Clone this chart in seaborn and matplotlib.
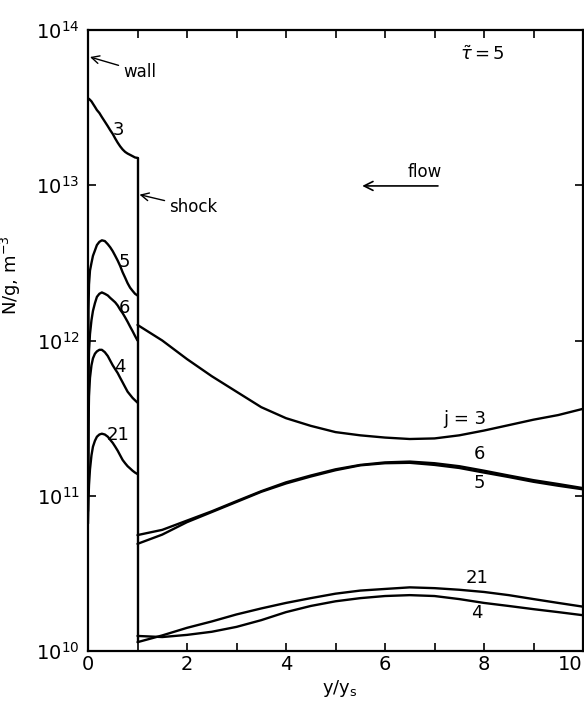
import matplotlib
matplotlib.use("Agg")
import matplotlib.pyplot as plt
import numpy as np
import pandas as pd
import seaborn as sns
from matplotlib.ticker import FixedLocator, FixedFormatter, NullLocator

# ---------------- data ----------------
# shock layer (0 <= y/ys <= 1)
x_shock = [0.0, 0.01, 0.02, 0.04, 0.07, 0.1, 0.14, 0.18, 0.23, 0.28, 0.34,
           0.4, 0.45, 0.5, 0.55, 0.6, 0.65, 0.7, 0.75, 0.8, 0.85, 0.9, 0.95,
           1.0]
n3_shock = [3.63e13, 3.61e13, 3.60e13, 3.55e13, 3.47e13, 3.35e13, 3.20e13,
            3.05e13, 2.92e13, 2.75e13, 2.57e13, 2.40e13, 2.26e13, 2.14e13,
            2.00e13, 1.88e13, 1.78e13, 1.70e13, 1.64e13, 1.60e13, 1.57e13,
            1.54e13, 1.51e13, 1.50e13]
n5_shock = [1.0e11, 1.58e12, 2.29e12, 2.82e12, 3.16e12, 3.51e12, 3.80e12,
            4.12e12, 4.32e12, 4.42e12, 4.37e12, 4.17e12, 3.98e12, 3.76e12,
            3.51e12, 3.27e12, 3.02e12, 2.75e12, 2.54e12, 2.34e12, 2.19e12,
            2.09e12, 2.00e12, 1.95e12]
n6_shock = [1.0e11, 5.62e11, 8.51e11, 1.10e12, 1.35e12, 1.55e12, 1.74e12,
            1.91e12, 2.00e12, 2.04e12, 2.00e12, 1.95e12, 1.88e12, 1.82e12,
            1.76e12, 1.68e12, 1.58e12, 1.50e12, 1.41e12, 1.32e12, 1.23e12,
            1.15e12, 1.07e12, 1.0e12]
n4_shock = [7.94e10, 2.82e11, 4.37e11, 5.75e11, 6.92e11, 7.67e11, 8.22e11,
            8.51e11, 8.71e11, 8.71e11, 8.41e11, 7.94e11, 7.41e11, 6.92e11,
            6.53e11, 6.17e11, 5.75e11, 5.37e11, 5.01e11, 4.68e11, 4.47e11,
            4.27e11, 4.12e11, 3.98e11]
n21_shock = [6.61e10, 9.55e10, 1.17e11, 1.48e11, 1.82e11, 2.07e11, 2.26e11,
             2.40e11, 2.48e11, 2.51e11, 2.48e11, 2.40e11, 2.29e11, 2.19e11,
             2.07e11, 1.95e11, 1.82e11, 1.70e11, 1.62e11, 1.55e11, 1.50e11,
             1.45e11, 1.41e11, 1.38e11]

# free stream (1 <= y/ys <= 10)
x_free = [1.0, 1.5, 2.0, 2.5, 3.0, 3.5, 4.0, 4.5, 5.0, 5.5, 6.0, 6.5, 7.0,
          7.5, 8.0, 8.5, 9.0, 9.5, 10.0]
n3_free = [1.26e12, 1.0e12, 7.59e11, 5.89e11, 4.68e11, 3.72e11, 3.16e11,
           2.82e11, 2.57e11, 2.45e11, 2.37e11, 2.32e11, 2.34e11, 2.45e11,
           2.63e11, 2.85e11, 3.09e11, 3.31e11, 3.63e11]
n6_free = [5.58e10, 6.03e10, 6.92e10, 7.94e10, 9.23e10, 1.07e11, 1.22e11,
           1.35e11, 1.48e11, 1.58e11, 1.64e11, 1.66e11, 1.62e11, 1.55e11,
           1.45e11, 1.35e11, 1.26e11, 1.19e11, 1.12e11]
n5_free = [4.90e10, 5.62e10, 6.76e10, 7.85e10, 9.12e10, 1.06e11, 1.20e11,
           1.33e11, 1.46e11, 1.57e11, 1.62e11, 1.63e11, 1.58e11, 1.51e11,
           1.41e11, 1.32e11, 1.23e11, 1.16e11, 1.10e11]
n21_free = [1.14e10, 1.26e10, 1.41e10, 1.55e10, 1.72e10, 1.88e10, 2.04e10,
            2.19e10, 2.34e10, 2.45e10, 2.51e10, 2.57e10, 2.54e10, 2.48e10,
            2.40e10, 2.29e10, 2.16e10, 2.04e10, 1.93e10]
n4_free = [1.25e10, 1.23e10, 1.27e10, 1.33e10, 1.43e10, 1.58e10, 1.78e10,
           1.95e10, 2.09e10, 2.19e10, 2.26e10, 2.29e10, 2.26e10, 2.16e10,
           2.04e10, 1.95e10, 1.86e10, 1.78e10, 1.70e10]

shock_x = 1.0
x_ticks = [0, 2, 4, 6, 8, 10]
x_tick_labels = ["0", "2", "4", "6", "8", "10"]
y_ticks = [1e10, 1e11, 1e12, 1e13, 1e14]
y_tick_labels = [r"$\mathregular{10^{10}}$", r"$\mathregular{10^{11}}$",
                 r"$\mathregular{10^{12}}$", r"$\mathregular{10^{13}}$",
                 r"$\mathregular{10^{14}}$"]

# ---------------- figure ----------------
sns.set_theme(style="ticks")
plt.rcParams["font.family"] = ["DejaVu Sans"]
plt.rcParams["mathtext.fontset"] = "dejavusans"
for k in ["text.color", "axes.labelcolor", "xtick.color", "ytick.color",
          "axes.edgecolor"]:
    plt.rcParams[k] = "black"

fig = plt.figure(figsize=(5.84, 7.03), dpi=100)
ax = fig.add_axes([88 / 584, 1 - 651 / 703, 495 / 584, 621 / 703])

lw = 1.7
for xs, ys in [(x_shock, n3_shock), (x_shock, n5_shock), (x_shock, n6_shock),
               (x_shock, n4_shock), (x_shock, n21_shock),
               (x_free, n3_free), (x_free, n6_free), (x_free, n5_free),
               (x_free, n21_free), (x_free, n4_free)]:
    sns.lineplot(x=xs, y=ys, ax=ax, color="black", lw=lw, sort=False,
                 estimator=None)

# shock front vertical line
low = min(n21_free[0], n4_free[0])
ax.plot([shock_x, shock_x], [low, n3_shock[-1]], color="black", lw=lw)

ax.set_yscale("log")
ax.set_xlim(0, 10)
ax.set_ylim(1e10, 1e14)

ax.xaxis.set_major_locator(FixedLocator(x_ticks))
ax.xaxis.set_major_formatter(FixedFormatter(x_tick_labels))
ax.xaxis.set_minor_locator(FixedLocator([1, 3, 5, 7, 9]))
ax.yaxis.set_major_locator(FixedLocator(y_ticks))
ax.yaxis.set_major_formatter(FixedFormatter(y_tick_labels))
ax.yaxis.set_minor_locator(NullLocator())

ax.tick_params(axis="both", which="both", direction="in", top=True,
               right=True, color="black", width=1.2)
ax.tick_params(axis="both", which="major", length=6, labelsize=14, pad=3)
ax.tick_params(axis="x", which="minor", length=6)
ax.tick_params(axis="y", which="major", pad=6)
for s in ax.spines.values():
    s.set_linewidth(1.6)
    s.set_color("black")
ax.grid(False)

# keep the last x tick label inside the figure
fig.canvas.draw()
ax.get_xticklabels()[-1].set_horizontalalignment("right")

ax.set_xlabel(r"y/y$_\mathregular{s}$", fontsize=13)
ax.xaxis.set_label_coords(0.509, -0.043)
ax.set_ylabel(r"N/g, m$^\mathregular{-3}$", fontsize=13)
ax.yaxis.set_label_coords(-0.131, 0.605)

# curve labels
fs = 13
lab = dict(fontsize=fs, ha="center", va="center", color="black")
ax.text(0.61, 2.27e13, "3", **lab)
ax.text(0.73, 3.2e12, "5", **lab)
ax.text(0.73, 1.62e12, "6", **lab)
ax.text(0.65, 6.8e11, "4", **lab)
ax.text(0.61, 2.45e11, "21", **lab)
ax.text(7.62, 3.1e11, "j = 3", **lab)
ax.text(7.90, 1.86e11, "6", **lab)
ax.text(7.90, 1.2e11, "5", **lab)
ax.text(7.86, 2.95e10, "21", **lab)
ax.text(7.86, 1.76e10, "4", **lab)

ax.text(7.52, 6.9e13, r"$\tilde{\tau}=5$", fontsize=13, ha="left",
        va="center")

arrow = dict(arrowstyle="->", color="black", lw=1.0, shrinkA=1, shrinkB=0,
             mutation_scale=14)
ax.annotate("wall", xy=(0.04, 6.7e13), xytext=(0.71, 5.4e13), fontsize=12,
            ha="left", va="center", arrowprops=arrow)
ax.annotate("shock", xy=(1.04, 8.7e12), xytext=(1.64, 7.2e12), fontsize=12,
            ha="left", va="center", arrowprops=arrow)
ax.text(6.81, 1.22e13, "flow", fontsize=12, ha="center", va="center")
ax.annotate("", xy=(5.54, 9.9e12), xytext=(7.07, 9.9e12),
            arrowprops=dict(arrowstyle="->", color="black", lw=1.2,
                            shrinkA=0, shrinkB=0, mutation_scale=16))

fig.savefig("out.png", dpi=100)
